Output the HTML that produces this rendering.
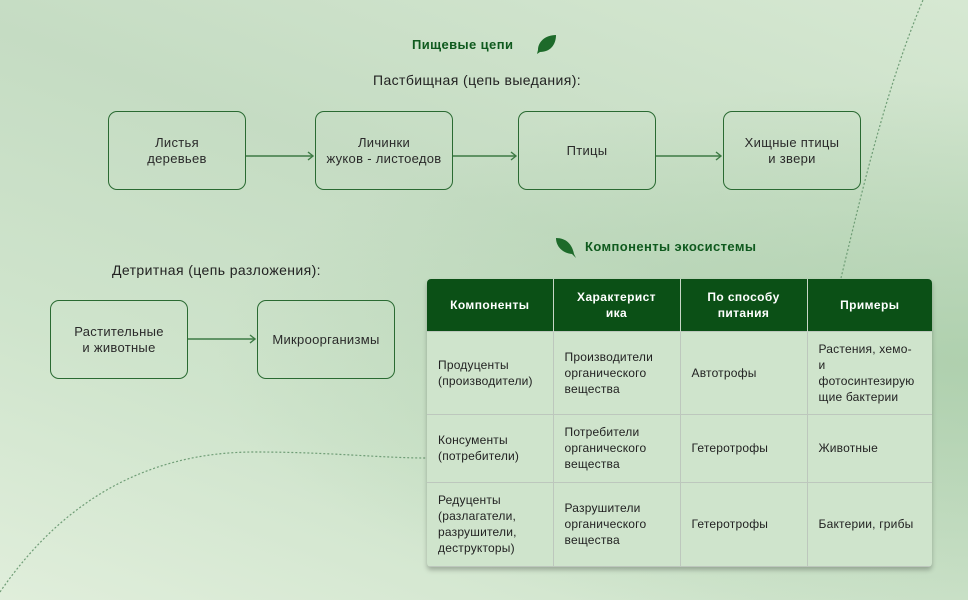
<!DOCTYPE html>
<html><head><meta charset="utf-8"><style>
*{margin:0;padding:0;box-sizing:border-box}
body{width:968px;height:600px;overflow:hidden;position:relative;font-family:"Liberation Sans",sans-serif;color:#222;
background:linear-gradient(200deg,#d6e8d2 0%,#c5dcc3 40%,#cfe4cc 70%,#e0eedb 100%);}
.bgr{position:absolute;inset:0;background:radial-gradient(ellipse at 100% 60%,rgba(160,200,160,.6),rgba(160,200,160,0) 55%);}
.t{position:absolute;white-space:nowrap;font-size:14px;letter-spacing:0.4px}
.box{position:absolute;border:1.3px solid #2a6a32;border-radius:9px;display:flex;align-items:center;justify-content:center;text-align:center;font-size:13px;line-height:16px;color:#2a2a2a;letter-spacing:0.3px}
table{position:absolute;left:427px;top:279px;width:505px;border-collapse:collapse;background:#cfe4cc;font-size:12px;line-height:16px;box-shadow:0 3px 5px rgba(0,0,0,.25);border-radius:4px;overflow:hidden;letter-spacing:0.2px}
th{background:#0b5016;color:#fff;font-weight:bold;font-size:12px;height:52px;text-align:center;border-right:1.5px solid #c7d6c6;padding:0 6px;letter-spacing:0.4px}
td{border:1.5px solid #bdc7bd;padding:0 11px;color:#222;vertical-align:middle}
tr td:first-child{border-left:none}tr td:last-child,th:last-child{border-right:none}
</style></head><body>
<div class="bgr"></div>
<svg width="968" height="600" style="position:absolute;left:0;top:0">
<path d="M841,278 C860,200 885,90 923,0" fill="none" stroke="#6f9d76" stroke-width="1.2" stroke-dasharray="2,2"/>
<path d="M0,592 C70,490 160,452 255,452 C330,452 380,458 427,458" fill="none" stroke="#6f9d76" stroke-width="1.2" stroke-dasharray="2,2"/>
<g stroke="#3d7a44" stroke-width="1.4" fill="none">
<line x1="246" y1="156" x2="313" y2="156"/><path d="M308,152 L313,156 L308,160"/>
<line x1="453" y1="156" x2="516" y2="156"/><path d="M511,152 L516,156 L511,160"/>
<line x1="656" y1="156" x2="721" y2="156"/><path d="M716,152 L721,156 L716,160"/>
<line x1="188" y1="339" x2="255" y2="339"/><path d="M250,335 L255,339 L250,343"/>
</g>
<path d="M556,35 C545,35 538,42 538,50 L537,54 L540,52 C550,52 556,45 556,35Z" fill="#1d6a2a"/>
<path d="M574,254 C572,244 566,238 556,238 C556,246 562,253 572,254 L576,258Z" fill="#1d6a2a"/>
</svg>
<div class="t" style="left:412px;top:37px;color:#0f5a1e;font-weight:bold;font-size:13px">Пищевые цепи</div>
<div class="t" style="left:373px;top:72px">Пастбищная (цепь выедания):</div>
<div class="box" style="left:108px;top:111px;width:138px;height:79px">Листья<br>деревьев</div>
<div class="box" style="left:315px;top:111px;width:138px;height:79px">Личинки<br>жуков - листоедов</div>
<div class="box" style="left:518px;top:111px;width:138px;height:79px">Птицы</div>
<div class="box" style="left:723px;top:111px;width:138px;height:79px">Хищные птицы<br>и звери</div>
<div class="t" style="left:112px;top:262px">Детритная (цепь разложения):</div>
<div class="box" style="left:50px;top:300px;width:138px;height:79px">Растительные<br>и животные</div>
<div class="box" style="left:257px;top:300px;width:138px;height:79px">Микроорганизмы</div>
<div class="t" style="left:585px;top:239px;color:#0f5a1e;font-weight:bold;font-size:13px">Компоненты экосистемы</div>
<table>
<colgroup><col style="width:126px"><col style="width:127px"><col style="width:127px"><col style="width:125px"></colgroup>
<tr><th>Компоненты</th><th>Характерист<br>ика</th><th>По способу<br>питания</th><th>Примеры</th></tr>
<tr style="height:83px"><td>Продуценты<br>(производители)</td><td>Производители<br>органического<br>вещества</td><td>Автотрофы</td><td>Растения, хемо-<br>и<br>фотосинтезирую<br>щие бактерии</td></tr>
<tr style="height:68px"><td>Консументы<br>(потребители)</td><td>Потребители<br>органического<br>вещества</td><td>Гетеротрофы</td><td>Животные</td></tr>
<tr style="height:84px"><td>Редуценты<br>(разлагатели,<br>разрушители,<br>деструкторы)</td><td>Разрушители<br>органического<br>вещества</td><td>Гетеротрофы</td><td>Бактерии, грибы</td></tr>
</table>
</body></html>
